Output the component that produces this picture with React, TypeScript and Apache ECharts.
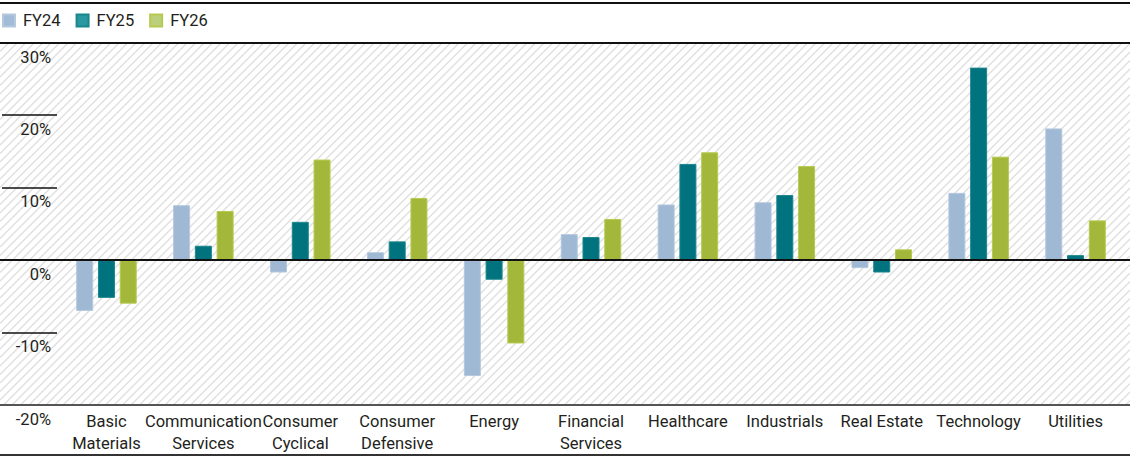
import React, { useEffect, useRef } from "react";
import * as echarts from "echarts";

const categories = [
  "Basic\nMaterials",
  "Communication\nServices",
  "Consumer\nCyclical",
  "Consumer\nDefensive",
  "Energy",
  "Financial\nServices",
  "Healthcare",
  "Industrials",
  "Real Estate",
  "Technology",
  "Utilities",
];
const seriesNames = ["FY24", "FY25", "FY26"];
const fy24 = [-7.0, 7.6, -1.7, 1.1, -16.0, 3.6, 7.7, 8.0, -1.1, 9.3, 18.2];
const fy25 = [-5.2, 2.0, 5.3, 2.6, -2.7, 3.2, 13.3, 9.0, -1.7, 26.6, 0.7];
const fy26 = [-6.0, 6.8, 13.9, 8.6, -11.5, 5.7, 14.9, 13.0, 1.5, 14.3, 5.5];
const yTicks = [-20, -10, 0, 10, 20, 30];
const fullLineTicks = [30, 0, -20];

const barColors = ["#9fb8d4", "#00737e", "#a3b83b"];
const barBorders = ["#b4c8de", "#1b868e", "#b6ca50"];
const legendColors = ["#a2bbd7", "#2a989e", "#bccf7d"];

const FONT = "Roboto, 'Liberation Sans', sans-serif";
const TEXT = "#231f20";
const FS = 16.5;

export default function App() {
  const ref = useRef<HTMLDivElement>(null);
  useEffect(() => {
    if (!ref.current) return;
    const chart = echarts.init(ref.current, undefined, { renderer: "svg" });
    const W = 1130;
    const dataSets = [fy24, fy25, fy26];
    chart.setOption({
      animation: false,
      textStyle: { fontFamily: FONT, color: TEXT },
      legend: {
        left: 2,
        top: 12,
        padding: 0,
        itemWidth: 12,
        itemHeight: 12,
        itemGap: 15,
        icon: "rect",
        textStyle: { fontFamily: FONT, fontSize: FS, color: TEXT, padding: [0, 0, 0, 3] },
        data: seriesNames.map((n, i) => ({ name: n, itemStyle: { color: legendColors[i] } })),
      },
      grid: { left: 58, right: 6, top: 43, bottom: 55, containLabel: false },
      xAxis: {
        type: "category",
        data: categories,
        axisLine: { show: false },
        axisTick: { show: false },
        axisLabel: {
          interval: 0,
          fontFamily: FONT,
          fontSize: FS,
          color: TEXT,
          lineHeight: 22,
          margin: 5,
        },
      },
      yAxis: {
        type: "value",
        min: -20,
        max: 30,
        interval: 10,
        axisLine: { show: false },
        axisTick: { show: false },
        splitLine: { show: false },
        axisLabel: {
          formatter: "{value}%",
          fontFamily: FONT,
          fontSize: FS,
          color: TEXT,
          verticalAlign: "top",
          lineHeight: 22,
          padding: [3, 0, 0, 0],
          margin: 7,
          showMinLabel: true,
          showMaxLabel: true,
        },
      },
      series: seriesNames.map((n, i) => ({
        name: n,
        type: "bar",
        data: dataSets[i],
        barWidth: 17,
        barGap: "28%",
        itemStyle: { color: barColors[i], borderColor: barBorders[i], borderWidth: 1 },
        z: 5,
      })),
    });

    const yPix = (v: number) => chart.convertToPixel({ yAxisIndex: 0 }, v) as number;
    const yTop = yPix(30);
    const yBot = yPix(-20);
    const graphics: any[] = [];
    // hatch background
    const step = 8.5;
    const x0 = 0, x1 = W;
    for (let c = x0 + yTop; c <= x1 + yBot; c += step) {
      const xa = Math.max(x0, c - yBot);
      const xb = Math.min(x1, c - yTop);
      if (xa < xb) {
        graphics.push({
          type: "line",
          silent: true,
          z: 0,
          shape: { x1: xa, y1: c - xa, x2: xb, y2: c - xb },
          style: { stroke: "#e0e0e0", lineWidth: 1.4 },
        });
      }
    }
    // gridlines
    yTicks.forEach((t) => {
      const y = Math.round(yPix(t));
      const full = fullLineTicks.indexOf(t) >= 0;
      const isBottom = t === -20;
      graphics.push({
        type: "line",
        silent: true,
        z: 20,
        shape: { x1: full ? 0 : 2, y1: y, x2: full ? W : 57, y2: y },
        style: { stroke: isBottom ? "#555555" : "#111111", lineWidth: full ? 2 : 1.5 },
      });
    });
    // frame lines
    graphics.push({
      type: "line", silent: true, z: 20,
      shape: { x1: 0, y1: 3, x2: W, y2: 3 },
      style: { stroke: "#111111", lineWidth: 2 },
    });
    graphics.push({
      type: "line", silent: true, z: 20,
      shape: { x1: 0, y1: 455, x2: W, y2: 455 },
      style: { stroke: "#333333", lineWidth: 2 },
    });
    chart.setOption({ graphic: { elements: graphics } });

    return () => chart.dispose();
  }, []);
  return (
    <div
      ref={ref}
      style={{ position: "absolute", left: 0, top: 0, width: 1130, height: 460, background: "#fff" }}
    />
  );
}
